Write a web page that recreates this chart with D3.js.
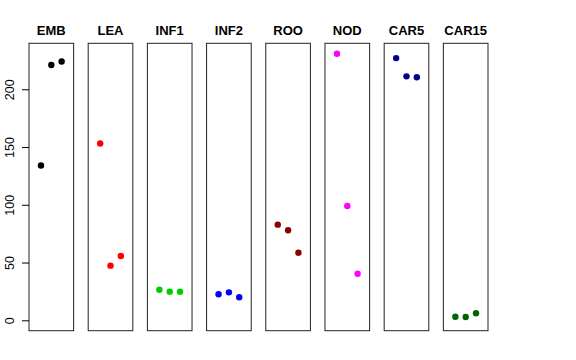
<!DOCTYPE html>
<html>
<head>
<meta charset="utf-8">
<script src="https://cdn.jsdelivr.net/npm/d3@7"></script>
<style>
  body { margin: 0; background: #fff; }
  text { font-family: "Liberation Sans", Arial, sans-serif; }
</style>
</head>
<body>
<script>
//Data
    const tissues = ["EMB", "LEA", "INF1", "INF2", "ROO", "NOD", "CAR5", "CAR15"];
    const colors = ["#000000", "#ff0000", "#00cd00", "#0000ff", "#8b0000", "#ff00ff", "#00008b", "#006400"];
    const rep1 = [134, 153, 26.5, 22.5, 82.8, 230.8, 227, 3.1];
    const rep2 = [221, 47.3, 24.8, 24.2, 77.9, 99, 211.2, 2.9];
    const rep3 = [224, 55.7, 24.8, 19.9, 58.5, 40.3, 210.4, 6.1];
    const yTicks = [0, 50, 100, 150, 200];

//Set up dimensions
    const width = 576;
    const height = 360;
    const plotTop = 43.3;
    const plotBottom = 330.7;

//Set up scales
    const panelScale = d3.scaleBand()
                    .domain(tissues)
                    .range([29, 488])
                    .paddingInner(0.246)
                    .paddingOuter(0);

    const xScale = d3.scaleLinear()
                    .domain([-0.16, 4.16])
                    .range([0, panelScale.bandwidth()]);

    const yScale = d3.scaleLinear()
                    .domain([-9, 239.8])
                    .range([plotBottom, plotTop]);

//Make the SVG
    const svg = d3.select("body")
                .append("svg")
                .attr("width", width)
                .attr("height", height);

//Draw panels
    tissues.forEach((t, i) => {
        const g = svg.append("g")
            .attr("transform", "translate(" + panelScale(t) + ",0)");

        g.append("rect")
            .attr("x", 0)
            .attr("y", plotTop)
            .attr("width", panelScale.bandwidth())
            .attr("height", plotBottom - plotTop)
            .attr("fill", "none")
            .attr("stroke", "#222")
            .attr("stroke-width", 1);

        g.append("text")
            .attr("x", panelScale.bandwidth() / 2)
            .attr("y", 35)
            .attr("text-anchor", "middle")
            .attr("font-weight", "bold")
            .attr("font-size", 13)
            .text(t);

        const vals = [rep1[i], rep2[i], rep3[i]];
        g.selectAll("circle")
            .data(vals)
            .enter()
            .append("circle")
            .attr("cx", (d, j) => xScale(j + 1))
            .attr("cy", d => yScale(d))
            .attr("r", 3.2)
            .attr("fill", colors[i]);
    });

//Y axis
    const leftAxis = d3.axisLeft(yScale)
                    .tickValues(yTicks)
                    .tickSize(7);

    const axisG = svg.append("g")
        .attr("transform", "translate(29,0)")
        .call(leftAxis);

    axisG.select(".domain").remove();
    axisG.selectAll(".tick line").attr("stroke", "#000");
    axisG.selectAll(".tick text")
        .attr("font-size", 12.5)
        .attr("font-family", "Liberation Sans, Arial, sans-serif")
        .attr("fill", "#000")
        .attr("text-anchor", "middle")
        .attr("x", null)
        .attr("dy", null)
        .attr("y", 0)
        .attr("transform", "translate(-19.5,0) rotate(-90) translate(0,4)");
</script>
</body>
</html>
